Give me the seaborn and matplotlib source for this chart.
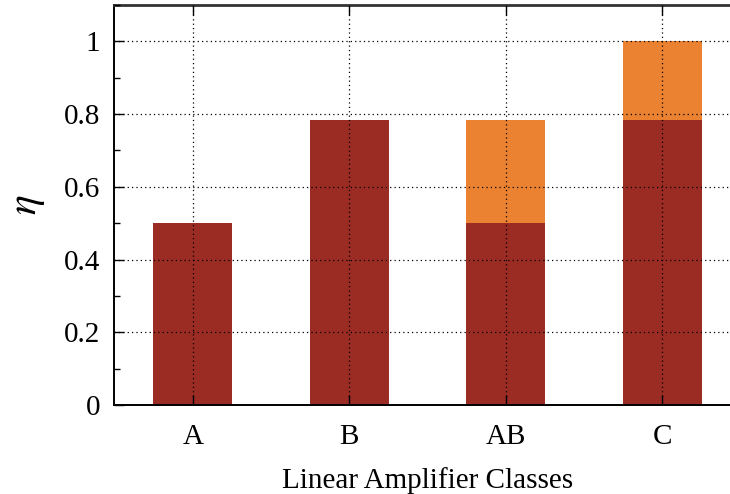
import matplotlib
matplotlib.use("Agg")
import matplotlib.pyplot as plt
import seaborn as sns
import pandas as pd
from matplotlib.ticker import MultipleLocator, FuncFormatter

categories = ["A", "B", "AB", "C"]
eta_base = [0.5, 0.785, 0.5, 0.785]
eta_max = [0.5, 0.785, 0.785, 1.0]

df = pd.DataFrame({"cls": categories, "base": eta_base, "top": eta_max})

sns.set_theme(style="white")
plt.rcParams["font.family"] = ["Liberation Serif", "DejaVu Serif"]
plt.rcParams["mathtext.fontset"] = "stix"
plt.rcParams["text.color"] = "black"
plt.rcParams["axes.labelcolor"] = "black"
plt.rcParams["xtick.color"] = "black"
plt.rcParams["ytick.color"] = "black"

fig = plt.figure(figsize=(7.3, 4.94), dpi=100)
ax = fig.add_axes([114 / 730, 89 / 494, 627 / 730, 400 / 494])

sns.barplot(data=df, x="cls", y="top", color="#EB8231", saturation=1,
            width=0.505, ax=ax, edgecolor="none", linewidth=0)
sns.barplot(data=df, x="cls", y="base", color="#9B2C23", saturation=1,
            width=0.505, ax=ax, edgecolor="none", linewidth=0)

ax.set_xlim(-0.505, 3.505)
ax.set_ylim(0, 1.10)
ax.yaxis.set_major_locator(MultipleLocator(0.2))
ax.yaxis.set_minor_locator(MultipleLocator(0.1))
ax.yaxis.set_major_formatter(FuncFormatter(lambda v, p: f"{v:g}"))

ax.set_axisbelow(False)
ax.grid(True, which="major", color="black", linestyle=(0, (1, 2.5)), linewidth=0.9)

ax.tick_params(axis="both", which="both", direction="in", bottom=True, left=True,
               top=True, right=False, labelsize=21, colors="black")
ax.tick_params(axis="y", which="major", length=7, width=1, pad=10)
ax.tick_params(axis="x", which="major", length=7, width=1, pad=14)
ax.tick_params(axis="y", which="minor", length=4, width=1)
ax.tick_params(axis="x", which="minor", bottom=False, top=False)

for s in ["left", "bottom"]:
    ax.spines[s].set_color("black")
    ax.spines[s].set_linewidth(1.4)
ax.spines["top"].set_color("#333333")
ax.spines["top"].set_linewidth(2)
ax.spines["right"].set_visible(False)

ax.set_xlabel("Linear Amplifier Classes", fontsize=21, labelpad=12)
ax.set_ylabel(r"$\eta$", fontsize=30, labelpad=12)

fig.savefig("out.png", dpi=100)
